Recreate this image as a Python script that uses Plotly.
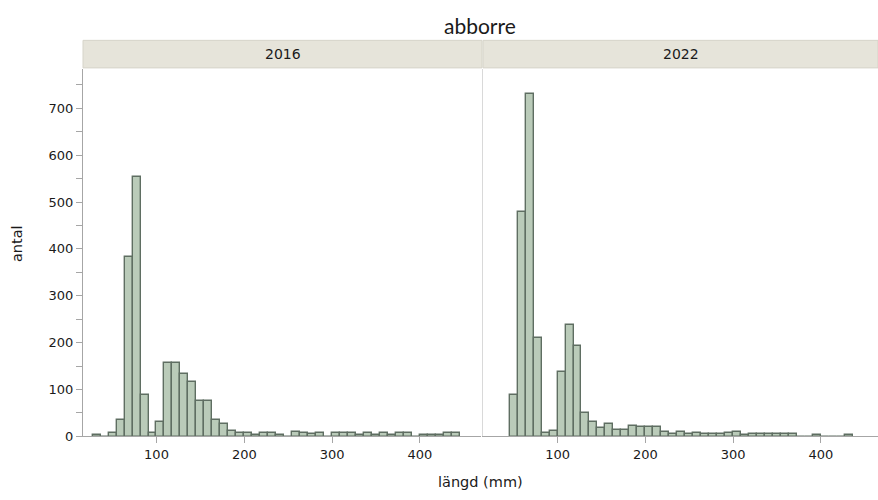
import plotly.graph_objects as go

# ---------------- data ----------------
BIN_WIDTH = 100 / 11          # histogram bin width (mm)
BIN_ORIGIN = 100              # a bin edge

years = ["2016", "2022"]

# bin index (relative to BIN_ORIGIN) of the first bin in each panel
first_bin_2016 = -8
counts_2016 = [4, 0, 7, 35, 384, 554, 88, 8, 32, 157, 157, 133, 116, 75, 75, 36, 27, 12, 7,
               7, 4, 7, 7, 4, 0, 10, 7, 5, 7, 0, 7, 7, 7, 4, 7, 4, 7, 4, 7, 7, 0, 3, 3, 3, 7, 7]

first_bin_2022 = -6
counts_2022 = [89, 478, 730, 210, 7, 12, 137, 238, 193, 51, 31, 19, 27, 14, 14, 23, 20, 20, 20,
               10, 6, 10, 6, 8, 6, 6, 6, 8, 9, 4, 6, 6, 6, 6, 6, 6, 0, 0, 3, 0, 0, 0, 3]

x_ticks = [100, 200, 300, 400]
y_ticks = [0, 100, 200, 300, 400, 500, 600, 700]

title_text = "abborre"
x_title = "längd (mm)"
y_title = "antal"

# ---------------- styling ----------------
W, H = 878, 500
FONT = "DejaVu Sans"
BAR_FILL = "#BACBB9"
BAR_LINE = "#5F6E62"
AXIS_COL = "#A6A6A6"
HEADER_FILL = "#E6E4DA"
HEADER_LINE = "#D6D4C9"

def px_x(p):
    return p / W

def px_y(p):
    return (H - p) / H

def centers(first, n):
    return [BIN_ORIGIN + (first + i + 0.5) * BIN_WIDTH for i in range(n)]

fig = go.Figure()
bar_style = dict(marker=dict(color=BAR_FILL, line=dict(color=BAR_LINE, width=1.4)),
                 width=BIN_WIDTH, showlegend=False, hoverinfo="x+y")

fig.add_trace(go.Bar(x=centers(first_bin_2016, len(counts_2016)), y=counts_2016,
                     xaxis="x", yaxis="y", name=years[0], **bar_style))
fig.add_trace(go.Bar(x=centers(first_bin_2022, len(counts_2022)), y=counts_2022,
                     xaxis="x2", yaxis="y2", name=years[1], **bar_style))

left_px = (83, 481)
right_px = (483, 878)
top_px, bottom_px = 70, 443.5
y_dom = [px_y(bottom_px), px_y(top_px)]

tickfont = dict(family=FONT, size=13, color="#1a1a1a")
xaxis_common = dict(tickvals=x_ticks, ticks="outside", ticklen=6, tickcolor=AXIS_COL,
                    showline=True, linecolor=AXIS_COL, linewidth=1, showgrid=False,
                    zeroline=False, tickfont=tickfont, fixedrange=True)

fig.update_layout(
    width=W, height=H,
    margin=dict(l=0, r=0, t=0, b=0),
    paper_bgcolor="white", plot_bgcolor="white",
    bargap=0,
    xaxis=dict(domain=[px_x(left_px[0]), px_x(left_px[1])], range=[16.3, 469.6],
               anchor="y", **xaxis_common),
    xaxis2=dict(domain=[px_x(right_px[0]), px_x(right_px[1])], range=[15.1, 465.0],
                anchor="y2", **xaxis_common),
    yaxis=dict(domain=y_dom, range=[0, 784], tickvals=y_ticks, ticks="outside",
               ticklen=6, tickcolor=AXIS_COL, showline=True, linecolor=AXIS_COL,
               showgrid=False, zeroline=False, tickfont=tickfont, anchor="x",
               minor=dict(dtick=50, tick0=0, ticks="outside", ticklen=6, tickcolor=AXIS_COL)),
    yaxis2=dict(domain=y_dom, matches="y", anchor="x2", showticklabels=False,
                showline=True, linecolor="#D9D9D9", showgrid=False, zeroline=False,
                ticks=""),
)

shapes = []
annotations = []
for (x0, x1), label in zip([(83, 482), (483, 878)], years):
    shapes.append(dict(type="rect", xref="paper", yref="paper",
                       x0=px_x(x0), x1=px_x(x1), y0=px_y(69), y1=px_y(41),
                       fillcolor=HEADER_FILL, line=dict(color=HEADER_LINE, width=1)))
    annotations.append(dict(text=label, xref="paper", yref="paper",
                            x=px_x((x0 + x1) / 2), y=px_y(55), showarrow=False,
                            xanchor="center", yanchor="middle",
                            font=dict(family=FONT, size=14, color="#1a1a1a")))

annotations.append(dict(text=title_text, xref="paper", yref="paper", x=px_x(480), y=px_y(26),
                        showarrow=False, xanchor="center", yanchor="middle",
                        font=dict(family="Lato", size=21, color="#1a1a1a")))
annotations.append(dict(text=x_title, xref="paper", yref="paper", x=px_x(481), y=px_y(490),
                        showarrow=False, xanchor="center", yanchor="middle",
                        font=dict(family=FONT, size=14.5, color="#1a1a1a")))
annotations.append(dict(text=y_title, xref="paper", yref="paper", x=px_x(17), y=px_y(248),
                        showarrow=False, xanchor="center", yanchor="middle", textangle=-90,
                        font=dict(family=FONT, size=14.5, color="#1a1a1a")))

fig.update_layout(shapes=shapes, annotations=annotations)

fig.write_html("out.html")
